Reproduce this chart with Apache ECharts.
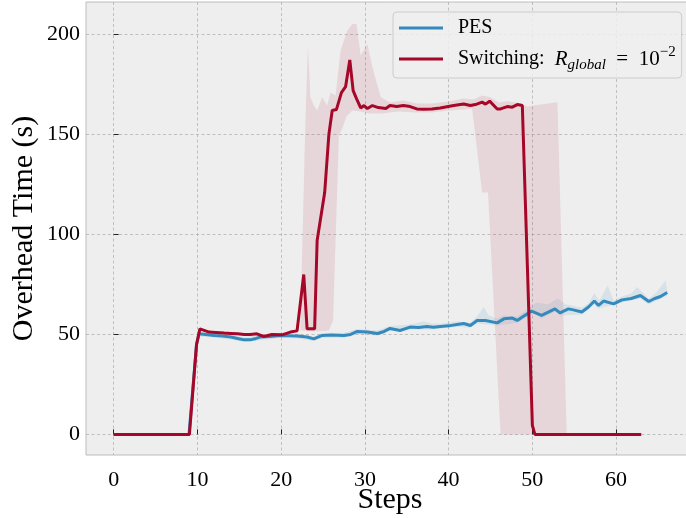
<!DOCTYPE html>
<html>
<head>
<meta charset="utf-8">
<script src="https://cdn.jsdelivr.net/npm/echarts@6/dist/echarts.min.js"></script>
<style>
html,body{margin:0;padding:0;background:#ffffff;}
#chart{width:686px;height:518px;}
</style>
</head>
<body>
<div id="chart"></div>
<script>
// ---- Data ----
const pesX = [0,1,2,3,4,5,6,7,8,9,9.9,10.2,11,12,13,14,14.8,15.6,16.3,17,17.5,18.7,19.9,21,21.9,23.1,23.9,24.9,26,27.5,28.3,29.1,30.3,30.7,31.5,32.3,33,34.2,35.4,36.4,37.4,38.2,39,40,41,41.8,42.6,43.4,44.4,45.8,46.6,47.6,48.2,48.8,49.4,49.9,51.1,51.9,52.7,53.3,54.3,54.9,55.9,56.7,57.4,57.9,58.5,59.7,60.7,61.8,62.9,63.9,64.6,65.3,66.1];
const pesY = [0,0,0,0,0,0,0,0,0,0,45,50.3,50,49.5,49.2,48.7,48,47.3,47.3,48,48.7,49,49.5,49.3,49.2,48.7,47.8,49.5,49.7,49.5,50,51.5,51.2,51,50.5,51.5,53,52,53.7,53.5,54,53.6,54,54.3,55,55.5,54.5,57,57,55.8,57.8,58.2,57,58.7,60.3,61.7,59.5,61.2,62.8,60.8,62.8,62.3,61.2,63.7,66.7,64.5,66.7,65.3,67.3,68,69.5,66.5,68,69,71];

const pesBandUpX = [10,12,14,15.6,17,19.9,21.9,23.9,24.9,27.5,29.1,31.5,33,35.4,37,38,39,41,42.6,43.4,44.2,44.8,45.8,46.6,48.2,49.4,50.5,51.9,53,54,55.9,56.7,57.4,58,59,59.7,60.7,61.8,62.5,63.3,63.9,64.8,65.9,66.1];
const pesBandUpY = [51.5,50.5,50,48.5,49.5,50.5,50.5,49,50.7,50.8,52.7,52,54.2,55,56.5,55.5,55.3,56.5,56,59,63.7,59.5,58,59.5,59,62.5,66,65,68,65,63.5,65.5,70.6,67,74.5,67,69,70.5,73.7,70.5,68,71,77,72.5];
const pesBandLoX = [10,12,14,15.6,17,19.9,21.9,23.9,24.9,27.5,29.1,31.5,33,35.4,38,41,42.6,43.4,45.8,48.2,49.4,50.2,51.1,52.7,53.3,55.9,57.4,57.9,60.7,62.9,63.9,66.1];
const pesBandLoY = [49,48.5,47.5,46.2,46.8,48.3,48,46.7,48.3,48.3,50.3,49.4,51.8,52.5,52.5,53.8,53.3,55.5,54.5,55.8,58.8,60.5,58,61.5,59.5,60,65,63,66,68,65,69.5];

const swX = [0,1,2,3,4,5,6,7,8,9.05,9.9,10.3,11.4,12.2,13.2,14,14.8,15.6,16.3,17.1,17.9,18.9,20.1,21.1,21.9,22.7,23.1,24.0,24.3,25.2,25.7,26.1,26.6,27.2,27.7,28.2,28.6,29,29.5,29.9,30.3,30.9,31.6,32.5,33,33.8,34.6,35.4,36.2,37,38,39,40.6,41.8,42.6,43.2,44,44.4,44.9,45.8,46.2,47,47.6,48.2,48.8,50,50.3,51,52,53,54,55,56,57,58,59,60,61,62,63];
const swY = [0,0,0,0,0,0,0,0,0,0,45,52.8,51.2,51,50.7,50.5,50.3,50,50,50.3,49,50,49.8,51.2,51.8,80,52.8,52.8,97,121,150,162,162.5,171,174,187.3,172,168,163.3,164.5,163,164.5,163.5,163,164.5,164,164.5,164,162.8,162.6,162.8,163.3,164.5,165.3,164.5,165,166.2,165.2,166.7,162.8,162.8,164,163.7,165,164.5,4.5,0,0,0,0,0,0,0,0,0,0,0,0,0,0];

const swBandUpX = [22.3,22.5,22.9,23.2,23.5,23.9,24.3,24.9,25.5,25.9,26.5,27.1,27.9,28.5,29,29.5,30.3,30.9,31.9,33,34.6,36.2,38,40,41.8,43,44,45,46,47,48.6,49.4,51,53,54.1];
const swBandUpY = [53,90,157,194.5,168.7,164.5,162,168.7,164.5,171,169.5,192,202,205.3,205.3,189.5,195.3,183.7,168.7,166,167,165.5,165.5,166.5,168,167.5,169.5,168.7,166,166.7,165.7,164,165,166.2,0];
const swBandLoX = [22.3,24,25.7,26.2,26.9,27.3,27.8,28.5,29.5,30.5,32,34,36,38,40,42,42.8,44.0,44.7,46.2,54.1];
const swBandLoY = [52,51.5,52,57,150,153,159,162,161.5,160.5,160.5,161.5,161,161,162,162.5,163,121,121,0,0];

const seriesNames = ['PES', 'Switching'];
const xName = 'Steps';
const yName = 'Overhead Time (s)';

const BLUE = '#348ABD';
const RED = '#A60628';
const FONT = 'Liberation Serif';

function pairs(xs, ys) { return xs.map((x, i) => [x, ys[i]]); }

function band(upX, upY, loX, loY, fill) {
  return {
    type: 'custom',
    silent: true,
    z: 1,
    clip: true,
    data: [[upX[0], upY[0]]],
    renderItem: function (params, api) {
      const pts = [];
      for (let i = 0; i < upX.length; i++) pts.push(api.coord([upX[i], upY[i]]));
      for (let i = loX.length - 1; i >= 0; i--) pts.push(api.coord([loX[i], loY[i]]));
      return { type: 'polygon', shape: { points: pts }, style: { fill: fill } };
    }
  };
}

const chart = echarts.init(document.getElementById('chart'), null, { renderer: 'canvas' });
chart.setOption({
  animation: false,
  backgroundColor: '#ffffff',
  textStyle: { fontFamily: FONT },
  grid: {
    left: 86, top: 2, right: -8, bottom: 63,
    containLabel: false, outerBoundsMode: 'none',
    show: true, backgroundColor: '#eeeeee', borderColor: '#bcbcbc', borderWidth: 1
  },
  xAxis: {
    type: 'value', min: -3.3, max: 69.3, splitNumber: 7,
    name: xName, nameLocation: 'middle', nameGap: 30, nameMoveOverlap: false,
    nameTextStyle: { fontFamily: FONT, fontSize: 30, color: '#000' },
    axisLine: { show: false },
    axisTick: { show: true, inside: true, length: 5, lineStyle: { color: '#222', width: 1 } },
    axisLabel: { showMinLabel: false, showMaxLabel: false, margin: 14, fontFamily: FONT, fontSize: 22, color: '#000' },
    splitLine: { show: true, showMinLine: false, showMaxLine: false, lineStyle: { color: '#b2b2b2', type: [3, 2.5], width: 0.8 } }
  },
  yAxis: {
    type: 'value', min: -10.3, max: 216.3, splitNumber: 5,
    name: yName, nameLocation: 'middle', nameGap: 47, nameMoveOverlap: false,
    nameTextStyle: { fontFamily: FONT, fontSize: 30, color: '#000' },
    axisLine: { show: false },
    axisTick: { show: true, inside: true, length: 5, lineStyle: { color: '#222', width: 1 } },
    axisLabel: { showMinLabel: false, showMaxLabel: false, margin: 6, fontFamily: FONT, fontSize: 22, color: '#000' },
    splitLine: { show: true, showMinLine: false, showMaxLine: false, lineStyle: { color: '#b2b2b2', type: [3, 2.5], width: 0.8 } }
  },
  legend: {
    data: seriesNames,
    orient: 'vertical',
    left: 393, top: 12,
    icon: 'rect', itemWidth: 44, itemHeight: 3, itemGap: 3,
    padding: [2, 6, 5, 6],
    backgroundColor: 'rgba(238,238,238,0.85)',
    borderColor: '#cccccc', borderWidth: 1, borderRadius: 4,
    formatter: function (name) {
      return name === 'PES' ? 'PES' : 'Switching:  {it|R}{sub|global}{t|  =  10}{sup|\u22122}';
    },
    textStyle: {
      fontFamily: FONT, fontSize: 20, color: '#000', lineHeight: 28, padding: [0, 0, 0, 10],
      rich: {
        it: { fontFamily: FONT, fontSize: 21, fontStyle: 'italic', color: '#000', lineHeight: 28 },
        sub: { fontFamily: FONT, fontSize: 15, fontStyle: 'italic', color: '#000', lineHeight: 16, verticalAlign: 'bottom' },
        t: { fontFamily: FONT, fontSize: 21, color: '#000', lineHeight: 28 },
        sup: { fontFamily: FONT, fontSize: 15, color: '#000', lineHeight: 16, verticalAlign: 'top' }
      }
    }
  },
  series: [
    band(pesBandUpX, pesBandUpY, pesBandLoX, pesBandLoY, 'rgba(52,138,189,0.12)'),
    band(swBandUpX, swBandUpY, swBandLoX, swBandLoY, 'rgba(166,6,40,0.1)'),
    {
      name: seriesNames[0], type: 'line', z: 3, data: pairs(pesX, pesY),
      symbol: 'none', lineStyle: { color: BLUE, width: 3 }, itemStyle: { color: BLUE }
    },
    {
      name: seriesNames[1], type: 'line', z: 4, data: pairs(swX, swY),
      symbol: 'none', lineStyle: { color: RED, width: 3 }, itemStyle: { color: RED }
    }
  ]
});
</script>
</body>
</html>
